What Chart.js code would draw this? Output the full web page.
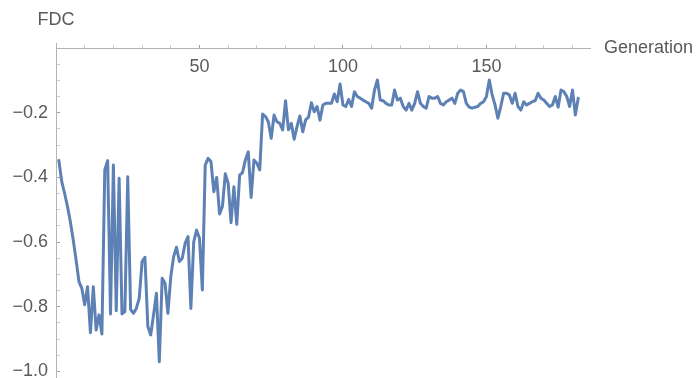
<!DOCTYPE html>
<html>
<head>
<meta charset="utf-8">
<script src="https://cdn.jsdelivr.net/npm/chart.js@4"></script>
<style>
  html, body { margin: 0; padding: 0; background: #ffffff; }
  #wrap { width: 698px; height: 378px; }
</style>
</head>
<body>
<div id="wrap"><canvas id="chart" width="698" height="378"></canvas></div>
<script>
// FDC per generation (generation 1 .. 182)
const fdc = [
  -0.348, -0.413, -0.449, -0.490, -0.537, -0.593, -0.655, -0.722, -0.743, -0.794,
  -0.738, -0.880, -0.738, -0.872, -0.825, -0.884, -0.377, -0.348, -0.822, -0.362,
  -0.812, -0.403, -0.822, -0.815, -0.398, -0.808, -0.820, -0.805, -0.774, -0.660,
  -0.647, -0.861, -0.887, -0.825, -0.758, -0.970, -0.712, -0.727, -0.820, -0.707,
  -0.645, -0.616, -0.660, -0.650, -0.604, -0.583, -0.805, -0.599, -0.563, -0.588,
  -0.748, -0.362, -0.341, -0.351, -0.444, -0.400, -0.513, -0.490, -0.389, -0.418,
  -0.540, -0.429, -0.545, -0.393, -0.385, -0.346, -0.321, -0.462, -0.346, -0.356,
  -0.377, -0.204, -0.212, -0.228, -0.279, -0.207, -0.228, -0.233, -0.253, -0.163,
  -0.253, -0.233, -0.282, -0.243, -0.210, -0.259, -0.222, -0.214, -0.169, -0.197,
  -0.181, -0.223, -0.176, -0.171, -0.171, -0.171, -0.142, -0.166, -0.111, -0.176,
  -0.181, -0.159, -0.181, -0.135, -0.150, -0.155, -0.161, -0.166, -0.171, -0.186,
  -0.130, -0.099, -0.161, -0.163, -0.171, -0.176, -0.176, -0.130, -0.161, -0.155,
  -0.181, -0.192, -0.171, -0.192, -0.171, -0.135, -0.171, -0.181, -0.186, -0.150,
  -0.155, -0.155, -0.150, -0.171, -0.176, -0.166, -0.161, -0.155, -0.171, -0.140,
  -0.130, -0.135, -0.171, -0.183, -0.186, -0.183, -0.181, -0.171, -0.166, -0.150,
  -0.099, -0.145, -0.176, -0.217, -0.181, -0.140, -0.140, -0.145, -0.171, -0.140,
  -0.181, -0.192, -0.166, -0.176, -0.171, -0.166, -0.163, -0.140, -0.155, -0.161,
  -0.171, -0.181, -0.176, -0.150, -0.183, -0.130, -0.135, -0.150, -0.181, -0.130,
  -0.207, -0.155
];

// Axis ticks: labelled majors and unlabelled minors
const xMajorTicks = [50, 100, 150];
const xMinorTicks = [10, 20, 30, 40, 60, 70, 80, 90, 110, 120, 130, 140, 160, 170, 180];
const yMajorTicks = [-1.0, -0.8, -0.6, -0.4, -0.2];
const yMinorTicks = [-0.95, -0.9, -0.85, -0.75, -0.7, -0.65, -0.55, -0.5, -0.45,
                     -0.35, -0.3, -0.25, -0.15, -0.1, -0.05];

const xTitle = 'Generation';
const yTitle = 'FDC';

const lineColor = 'rgb(94,129,181)';
const axisColor = '#b3b3b3';
const textColor = '#5a5a5a';
const fontFamily = '"Liberation Sans", Arial, sans-serif';

const points = fdc.map((v, i) => ({ x: i + 1, y: v }));

function isMajor(list, v) {
  return list.some(m => Math.abs(m - v) < 1e-9);
}
function fmtY(v) {
  const s = Math.abs(v).toFixed(1);
  return v < 0 ? '\u2212' + s : s;
}

// Axis labels drawn at the ends of the axes
const axisTitles = {
  id: 'axisTitles',
  afterDraw(chart) {
    const { ctx, scales: { x, y } } = chart;
    ctx.save();
    ctx.font = '18px ' + fontFamily;
    ctx.fillStyle = textColor;
    ctx.textBaseline = 'middle';
    ctx.textAlign = 'center';
    ctx.fillText(yTitle, x.getPixelForValue(0), 20);
    ctx.textAlign = 'left';
    ctx.fillText(xTitle, x.right + 14, y.getPixelForValue(0));
    ctx.restore();
  }
};

function zeroPadding(scale) {
  scale.paddingLeft = 0; scale.paddingRight = 0;
  scale.paddingTop = 0; scale.paddingBottom = 0;
}

new Chart(document.getElementById('chart'), {
  type: 'line',
  data: {
    datasets: [{
      data: points,
      borderColor: lineColor,
      borderWidth: 3,
      pointRadius: 0,
      tension: 0,
      fill: false,
      borderJoinStyle: 'round',
      borderCapStyle: 'round'
    }]
  },
  options: {
    responsive: false,
    animation: false,
    devicePixelRatio: 1,
    layout: { padding: { left: 0, right: 108, top: 43, bottom: 0 } },
    plugins: { legend: { display: false }, tooltip: { enabled: false }, title: { display: false } },
    scales: {
      x: {
        type: 'linear',
        position: { y: 0 },
        min: 0,
        max: 186.1,
        afterBuildTicks(scale) {
          scale.ticks = xMajorTicks.concat(xMinorTicks).sort((a, b) => a - b).map(v => ({ value: v }));
        },
        afterFit: zeroPadding,
        border: { display: true, color: axisColor, width: 1 },
        grid: {
          drawOnChartArea: false,
          drawTicks: true,
          tickLength: -4,
          tickWidth: 1,
          tickColor: ctx => isMajor(xMajorTicks, ctx.tick.value) ? '#a0a0a0' : '#c8c8c8'
        },
        ticks: {
          autoSkip: false,
          maxRotation: 0,
          padding: 12,
          color: textColor,
          font: { family: fontFamily, size: 18 },
          callback: v => isMajor(xMajorTicks, v) ? String(v) : ''
        }
      },
      y: {
        type: 'linear',
        position: 'left',
        min: -1.0201,
        max: 0.01546,
        afterBuildTicks(scale) {
          scale.ticks = yMajorTicks.concat(yMinorTicks).sort((a, b) => a - b).map(v => ({ value: v }));
        },
        afterFit(scale) {
          zeroPadding(scale);
          scale.width = 56;
        },
        border: { display: true, color: axisColor, width: 1 },
        grid: {
          drawOnChartArea: false,
          drawTicks: true,
          tickLength: -4,
          tickWidth: 1,
          tickColor: ctx => isMajor(yMajorTicks, ctx.tick.value) ? '#a0a0a0' : '#c8c8c8'
        },
        ticks: {
          autoSkip: false,
          padding: 12,
          color: textColor,
          font: { family: fontFamily, size: 18 },
          callback: v => isMajor(yMajorTicks, v) ? fmtY(v) : ''
        }
      }
    }
  },
  plugins: [axisTitles]
});
</script>
</body>
</html>
